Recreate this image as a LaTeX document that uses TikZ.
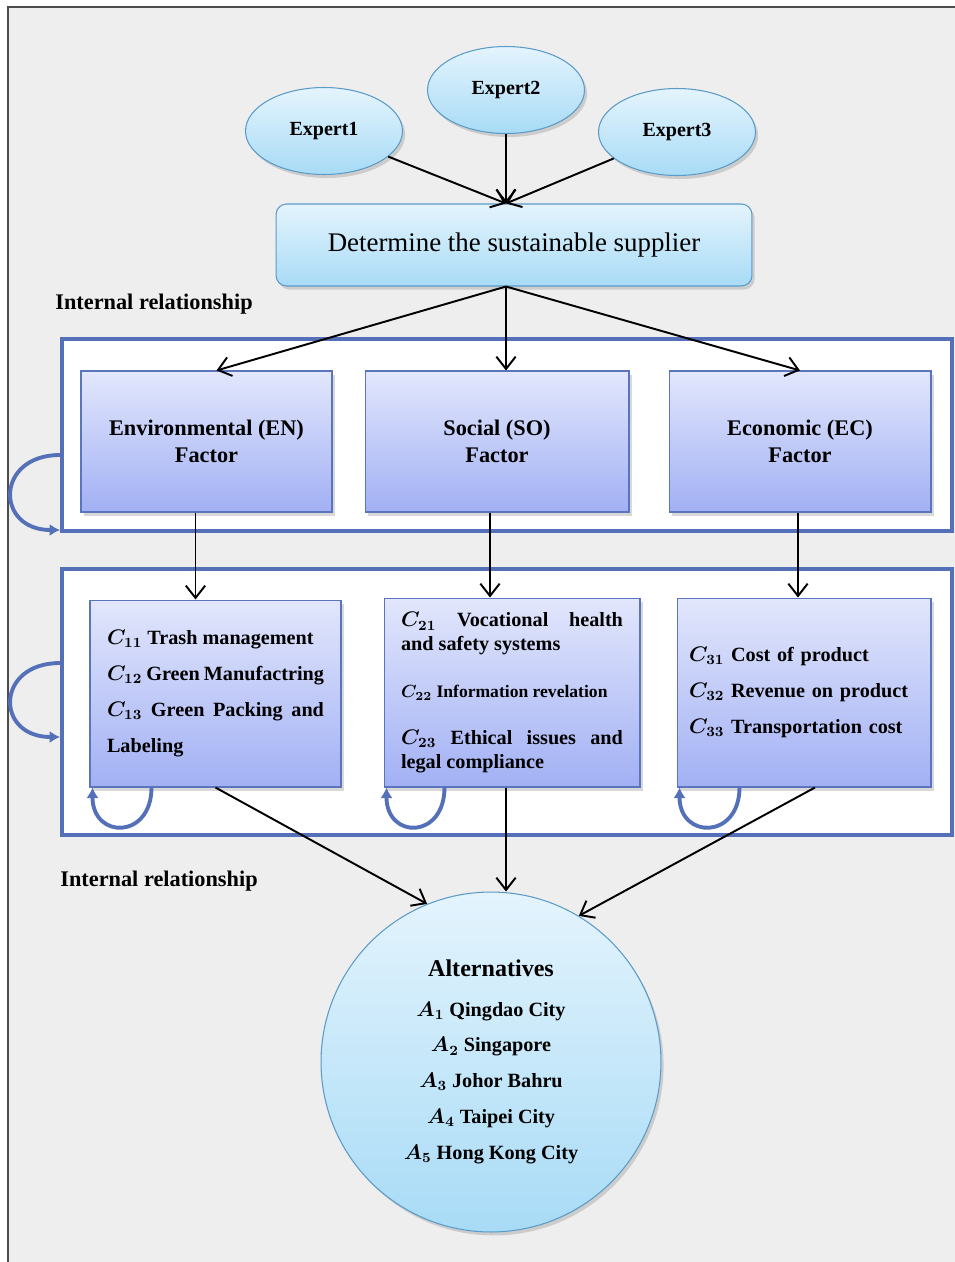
\documentclass[tikz,border=0pt]{standalone}
\usepackage{fontspec}
\setmainfont{Liberation Serif}
\usepackage{amsmath}
\usetikzlibrary{arrows.meta,shapes.geometric,shadows}
\definecolor{bggray}{HTML}{EEEEEE}
\definecolor{skytop}{HTML}{E4F4FD}
\definecolor{skybot}{HTML}{A8DBF6}
\definecolor{skyline}{HTML}{5A9BC8}
\definecolor{factop}{HTML}{E2E7FC}
\definecolor{facbot}{HTML}{A2B0F4}
\definecolor{facline}{HTML}{5A74BE}
\definecolor{grpline}{HTML}{5470B8}
\newcommand{\critc}[1]{{\boldmath$C_{#1}$}}
\newcommand{\altc}[1]{{\boldmath$A_{#1}$}}
\hyphenpenalty=10000

\begin{document}
\begin{tikzpicture}[x=0.02cm,y=-0.02cm,line width=1.1pt,
      >={Straight Barb[length=7pt,width=11pt]},
      skyfill/.style={top color=skytop,bottom color=skybot,draw=skyline,line width=0.6pt,
        drop shadow={shadow xshift=1.5pt,shadow yshift=-2pt,opacity=0.3}},
      expert/.style={skyfill,ellipse,minimum width=3.14cm,minimum height=1.74cm,inner sep=0pt,
        font=\bfseries\fontsize{11.4}{13}\selectfont},
      factor/.style={top color=factop,bottom color=facbot,draw=facline,line width=0.6pt,
        drop shadow={shadow xshift=1.5pt,shadow yshift=-2pt,opacity=0.3},
        minimum height=2.82cm,inner sep=0pt,align=center,
        font=\bfseries\fontsize{12.7}{15.3}\selectfont},
      critbox/.style={factor,align=justify,font=\bfseries\fontsize{11.5}{20.4}\selectfont},
      groupbox/.style={draw=grpline,line width=2.3pt,fill=white,minimum width=17.8cm,inner sep=0pt},
      selfloop/.style={draw=grpline,line width=2.2pt,-{Latex[length=6pt,width=7pt]}},
      relabel/.style={font=\bfseries\fontsize{12.7}{15}\selectfont}]
      \useasboundingbox(0,0)rectangle(955,1262);
      \fill[bggray](8,7)rectangle(955,1262);
      \draw[line width=1.2pt,black!70](955,7)--(8,7)--(8,1262);
      % experts and goal
      \node[expert](ex1)at(324,131){Expert1};
      \node[expert](ex2)at(506,90){Expert2};
      \node[expert](ex3)at(677,132){Expert3};
      \node[skyfill,rounded corners=6pt,minimum width=9.52cm,minimum height=1.64cm,
         font=\fontsize{15.3}{18}\selectfont](det)at(514,245){Determine the sustainable supplier};
      \node[relabel](rel1)at(154,304){Internal relationship};
      % factors
      \node[groupbox,minimum height=3.84cm](upper)at(507,435){};
      \node[factor,minimum width=5.02cm](en)at(206.5,441.5){Environmental (EN)\\Factor};
      \node[factor,minimum width=5.28cm](so)at(497,441.5){Social (SO)\\Factor};
      \node[factor,minimum width=5.24cm](ec)at(800,441.5){Economic (EC)\\Factor};
      % criteria
      \node[groupbox,minimum height=5.32cm](lower)at(507,702){};
      \node[critbox,minimum width=5.02cm,minimum height=3.74cm,text width=4.34cm](c1)at(215.5,693.5)
         {\critc{11} Trash management\\\critc{12} Green Manufactring\\\critc{13} Green Packing and Labeling};
      \node[critbox,minimum width=5.12cm,minimum height=3.78cm,text width=4.44cm,
         font=\bfseries\fontsize{11.5}{13.6}\selectfont](c2)at(512,692.5)
         {\critc{21} Vocational health\linebreak and safety systems\\[13pt]{\fontsize{10}{12}\selectfont
          \critc{22} Information revelation}\\[13pt]\critc{23} Ethical issues and\linebreak legal compliance};
      \node[critbox,align=left,minimum width=5.08cm,minimum height=3.78cm,text width=4.6cm](c3)at(804,692.5)
         {\critc{31} Cost of product\\\critc{32} Revenue on product\\\critc{33} Transportation cost};
      \node[relabel](rel2)at(159,881){Internal relationship};
      % alternatives
      \node[skyfill,circle,minimum size=6.8cm,inner sep=0pt,align=center,
         font=\bfseries\fontsize{11.5}{20.4}\selectfont](alt)at(491,1062)
         {{\fontsize{13.7}{16}\selectfont Alternatives}\\[2pt]\altc1 Qingdao City\\\altc2 Singapore\\
          \altc3 Johor Bahru\\\altc4 Taipei City\\\altc5 Hong Kong City};
      % connectors
      \coordinate(hub)at(ex2|-det.south);
      \coordinate(enout)at([xshift=-0.22cm]en.south);
      \coordinate(soout)at([xshift=-0.14cm]so.south);
      \coordinate(ecout)at([xshift=-0.04cm]ec.south);
      \coordinate(c3out)at([xshift=0.22cm]c3.south);
      \draw[->](ex1)--(ex2|-det.north);
      \draw[->](ex2)--(ex2|-det.north);
      \draw[->](ex3)--(ex2|-det.north);
      \draw[->](hub)--([xshift=0.2cm]en.north);
      \draw[->](hub)--(hub|-so.north);
      \draw[->](hub)--(ec.north);
      \draw[->](enout)--(enout|-c1.north);
      \draw[->](soout)--(soout|-c2.north);
      \draw[->](ecout)--(ecout|-c3.north);
      \draw[->](c1.south)--(alt.112);
      \draw[->](hub|-c2.south)--(hub|-alt.north);
      \draw[->](c3out)--(alt.59);
      % self loops
      \draw[selfloop]([yshift=-0.4cm]upper.west)..controls+(-65,0)and+(-65,0)..([yshift=0.06cm]upper.south west);
      \draw[selfloop]([yshift=0.78cm]lower.west)..controls+(-65,0)and+(-65,0)..([yshift=-0.7cm]lower.west);
      \draw[selfloop]([xshift=1.24cm]c1.south west)..controls+(0,52)and+(0,52)..([xshift=0.06cm]c1.south west);
      \draw[selfloop]([xshift=1.22cm]c2.south west)..controls+(0,52)and+(0,52)..([xshift=0.06cm]c2.south west);
      \draw[selfloop]([xshift=1.26cm]c3.south west)..controls+(0,52)and+(0,52)..([xshift=0.06cm]c3.south west);
    \end{tikzpicture}
\end{document}
